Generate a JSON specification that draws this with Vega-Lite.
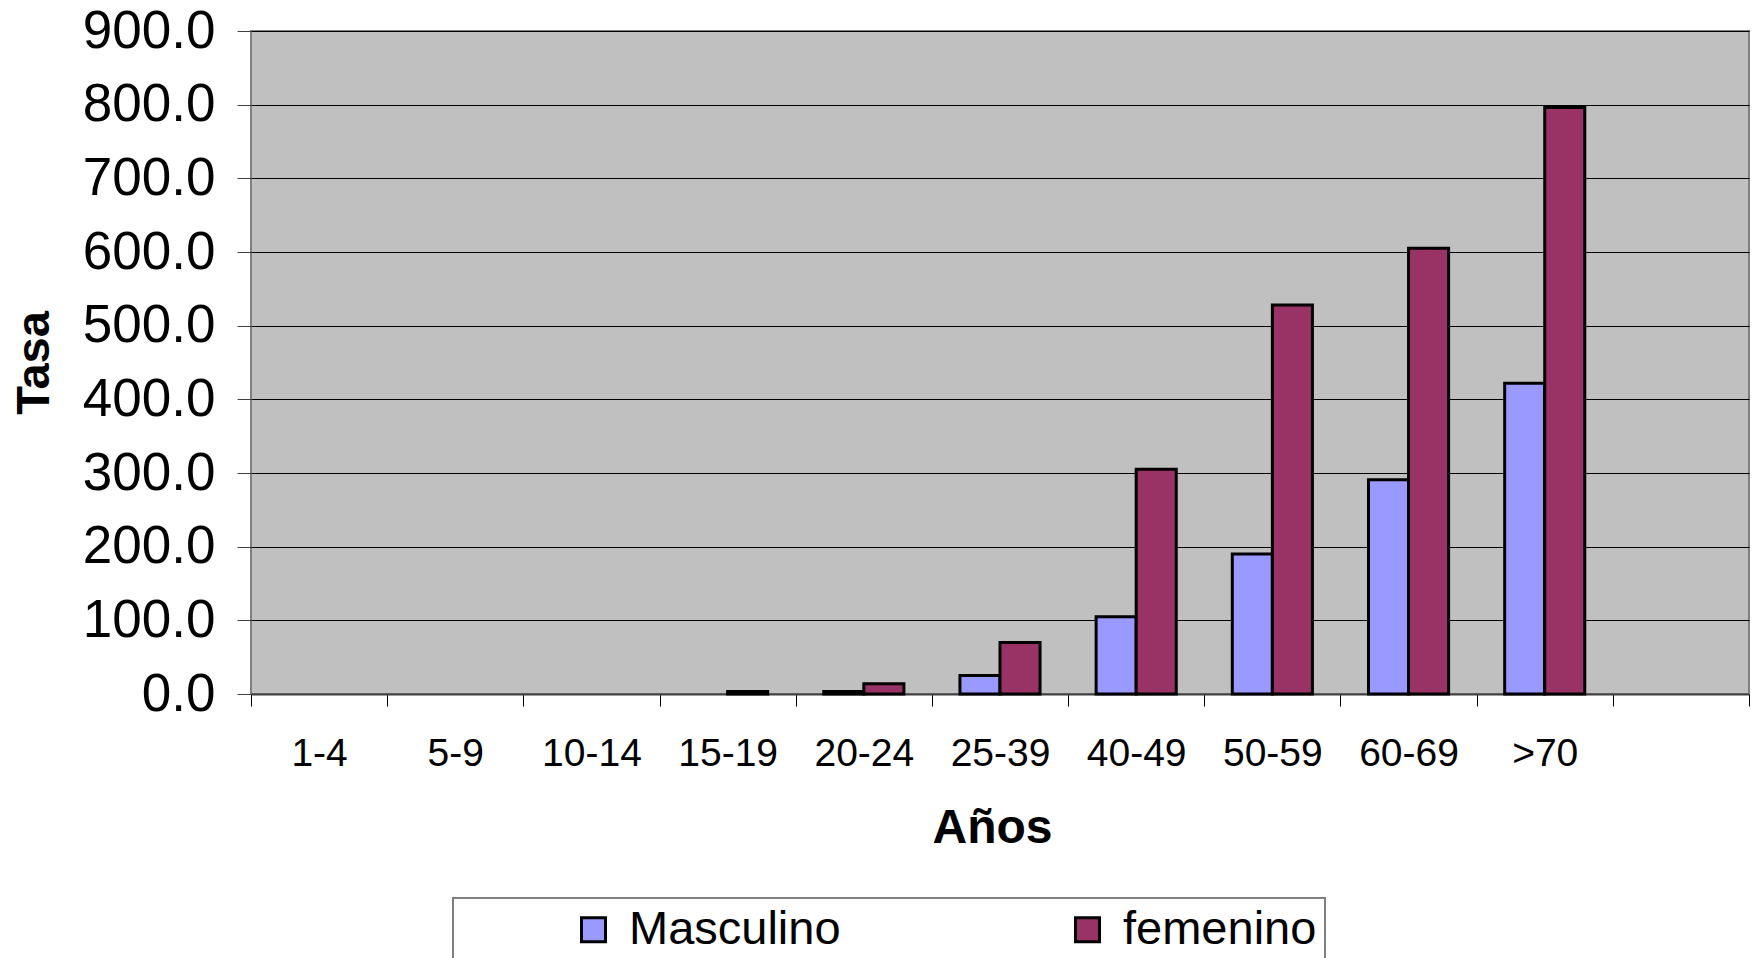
{
  "$schema": "https://vega.github.io/schema/vega-lite/v6.json",
  "width": 1498,
  "height": 663,
  "autosize": {"type": "none"},
  "padding": {"left": 251, "top": 31, "right": 6, "bottom": 264},
  "background": "white",
  "config": {
    "font": "Liberation Sans",
    "view": {"fill": "#C0C0C0", "stroke": "#808080", "strokeWidth": 2}
  },
  "data": {
    "values": [
      {"edad": "1-4", "sexo": "Masculino", "tasa": 0},
      {"edad": "1-4", "sexo": "femenino", "tasa": 0},
      {"edad": "5-9", "sexo": "Masculino", "tasa": 0},
      {"edad": "5-9", "sexo": "femenino", "tasa": 0},
      {"edad": "10-14", "sexo": "Masculino", "tasa": 0},
      {"edad": "10-14", "sexo": "femenino", "tasa": 0},
      {"edad": "15-19", "sexo": "Masculino", "tasa": 0},
      {"edad": "15-19", "sexo": "femenino", "tasa": 3.5},
      {"edad": "20-24", "sexo": "Masculino", "tasa": 3.5},
      {"edad": "20-24", "sexo": "femenino", "tasa": 14},
      {"edad": "25-39", "sexo": "Masculino", "tasa": 25},
      {"edad": "25-39", "sexo": "femenino", "tasa": 70},
      {"edad": "40-49", "sexo": "Masculino", "tasa": 105},
      {"edad": "40-49", "sexo": "femenino", "tasa": 305},
      {"edad": "50-59", "sexo": "Masculino", "tasa": 190},
      {"edad": "50-59", "sexo": "femenino", "tasa": 528},
      {"edad": "60-69", "sexo": "Masculino", "tasa": 291},
      {"edad": "60-69", "sexo": "femenino", "tasa": 605},
      {"edad": ">70", "sexo": "Masculino", "tasa": 422},
      {"edad": ">70", "sexo": "femenino", "tasa": 796}
    ]
  },
  "transform": [{"filter": "datum.tasa > 0"}],
  "mark": {"type": "bar", "stroke": "black", "strokeWidth": 3},
  "encoding": {
    "x": {
      "field": "edad",
      "type": "nominal",
      "scale": {
        "domain": ["1-4", "5-9", "10-14", "15-19", "20-24", "25-39", "40-49", "50-59", "60-69", ">70", " "],
        "paddingInner": 0,
        "paddingOuter": 0
      },
      "axis": {
        "title": "Años",
        "titleFontSize": 48,
        "titleFontWeight": "bold",
        "titleColor": "black",
        "titlePadding": 31,
        "titleX": 741,
        "titleAlign": "center",
        "labelAngle": 0,
        "labelFontSize": 39,
        "labelColor": "black",
        "labelPadding": 28,
        "tickBand": "extent",
        "tickSize": 12,
        "tickColor": "black",
        "domainColor": "#404040",
        "domainWidth": 2,
        "grid": false
      }
    },
    "xOffset": {
      "field": "sexo",
      "scale": {"domain": ["Masculino", "femenino"], "paddingInner": 0, "paddingOuter": 0.7}
    },
    "y": {
      "field": "tasa",
      "type": "quantitative",
      "scale": {"domain": [0, 900], "nice": false},
      "axis": {
        "title": "Tasa",
        "titleFontSize": 47,
        "titleFontWeight": "bold",
        "titleColor": "black",
        "titlePadding": 24,
        "values": [0, 100, 200, 300, 400, 500, 600, 700, 800, 900],
        "format": ".1f",
        "labelFontSize": 53,
        "labelColor": "black",
        "labelPadding": 22,
        "tickSize": 14,
        "tickColor": "#404040",
        "domain": false,
        "grid": true,
        "gridColor": "black",
        "gridWidth": 1
      }
    },
    "fill": {
      "field": "sexo",
      "type": "nominal",
      "scale": {"domain": ["Masculino", "femenino"], "range": ["#9999FF", "#993366"]},
      "legend": {
        "orient": "none",
        "legendX": 202,
        "legendY": 867,
        "direction": "horizontal",
        "columns": 2,
        "columnPadding": 223,
        "title": " ",
        "titleOrient": "left",
        "titlePadding": 109,
        "titleFontSize": 46,
        "padding": 8,
        "fillColor": "white",
        "strokeColor": "#808080",
        "symbolType": "square",
        "symbolSize": 576,
        "symbolStrokeColor": "black",
        "symbolStrokeWidth": 3,
        "labelFontSize": 47,
        "labelColor": "black",
        "labelOffset": 12,
        "labelLimit": 0,
        "encode": {
          "legend": {"update": {"strokeWidth": {"value": 2}}}
        }
      }
    }
  }
}
